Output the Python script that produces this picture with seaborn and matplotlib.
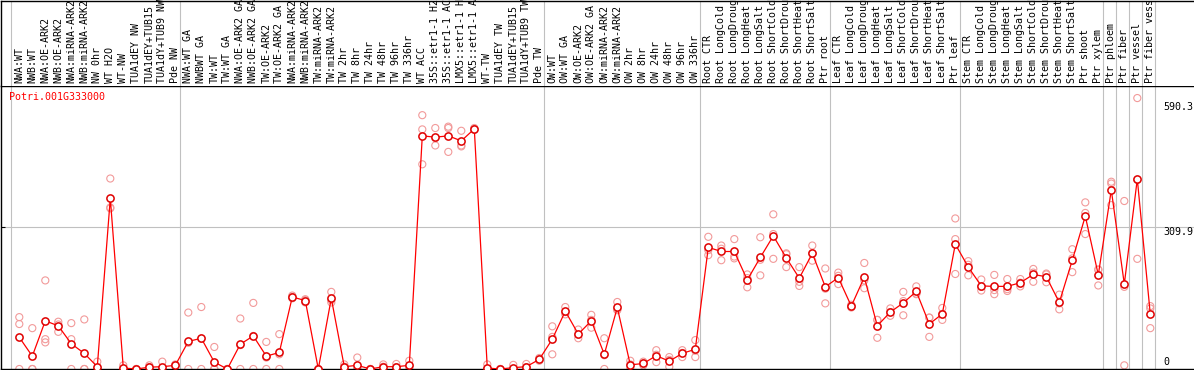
import numpy as np
import pandas as pd
import matplotlib
matplotlib.use('Agg')
import matplotlib.pyplot as plt
import matplotlib.transforms as mtransforms
import seaborn as sns

plt.rcParams['font.family'] = ['DejaVu Sans Mono']

gene = 'Potri.001G333000'

labels = [
    'NWA:WT', 'NWB:WT', 'NWA:OE-ARK2', 'NWB:OE-ARK2', 'NWA:miRNA-ARK2', 'NWB:miRNA-ARK2',
    'NW 0hr', 'WT H2O', 'WT-NW', 'TUA1dEY NW', 'TUA1dEY+TUB15', 'TUA1dY+TUB9 NW', 'Pde NW',
    'NWA:WT GA', 'NWBWT GA', 'TW:WT', 'TW:WT GA', 'NWA:OE-ARK2 GA', 'NWB:OE-ARK2 GA',
    'TW:OE-ARK2', 'TW:OE-ARK2 GA', 'NWA:miRNA-ARK2', 'NWB:miRNA-ARK2', 'TW:miRNA-ARK2',
    'TW:miRNA-ARK2', 'TW 2hr', 'TW 8hr', 'TW 24hr', 'TW 48hr', 'TW 96hr', 'TW 336hr',
    'WT ACC', '35S::etr1-1 H2', '35S::etr1-1 AC', 'LMX5::etr1-1 H', 'LMX5::etr1-1 A',
    'WT-TW', 'TUA1dEY TW', 'TUA1dEY+TUB15', 'TUA1dY+TUB9 TW', 'Pde TW',
    'OW:WT', 'OW:WT GA', 'OW:OE-ARK2', 'OW:OE-ARK2 GA', 'OW:miRNA-ARK2', 'OW:miRNA-ARK2',
    'OW 2hr', 'OW 8hr', 'OW 24hr', 'OW 48hr', 'OW 96hr', 'OW 336hr',
    'Root CTR', 'Root LongCold', 'Root LongDroug', 'Root LongHeat', 'Root LongSalt',
    'Root ShortCold', 'Root ShortDrou', 'Root ShortHeat', 'Root ShortSalt', 'Ptr root',
    'Leaf CTR', 'Leaf LongCold', 'Leaf LongDroug', 'Leaf LongHeat', 'Leaf LongSalt',
    'Leaf ShortCold', 'Leaf ShortDrou', 'Leaf ShortHeat', 'Leaf ShortSalt', 'Ptr leaf',
    'Stem CTR', 'Stem LongCold', 'Stem LongDroug', 'Stem LongHeat', 'Stem LongSalt',
    'Stem ShortCold', 'Stem ShortDrou', 'Stem ShortHeat', 'Stem ShortSalt', 'Ptr shoot',
    'Ptr xylem', 'Ptr phloem', 'Ptr fiber', 'Ptr vessel', 'Ptr fiber vess',
]

group_sizes = [13, 28, 12, 10, 10, 11, 1, 1, 1, 1]

means = [
    69, 28, 105, 94, 55, 34, 5, 372, 2, 0, 4, 5, 8,
    60, 67, 15, 0, 54, 72, 28, 36, 157, 149, 0, 154, 5, 8, 0, 5, 5, 8,
    508, 505, 508, 497, 523, 2, 0, 3, 5, 21,
    65, 126, 76, 105, 32, 134, 9, 12, 29, 17, 34, 43,
    265, 256, 256, 194, 243, 290, 242, 198, 252, 179,
    199, 137, 200, 94, 124, 144, 169, 98, 120, 272,
    222, 181, 180, 180, 188, 206, 201, 145, 237, 333, 205,
    390, 185, 414, 119,
]

rep_a = [
    113, 89, 193, 103, 100, 108, 16, 415, 8, 0, 8, 16, 10,
    123, 135, 48, 0, 110, 144, 59, 76, 160, 152, 0, 168, 10, 25, 0, 10, 11, 18,
    553, 525, 528, 519, 525, 10, 0, 9, 11, 24,
    93, 135, 86, 118, 67, 146, 18, 16, 41, 26, 41, 63,
    288, 269, 283, 206, 287, 337, 252, 222, 269, 219,
    210, 140, 231, 107, 132, 168, 180, 112, 133, 328,
    235, 195, 205, 196, 196, 218, 208, 162, 261, 363, 216,
    408, 366, 590.3, 137,
]

rep_b = [
    98, 0, 65, 97, 65, 0, 0, 352, 0, 0, 4, 0, 8,
    57, 66, 0, 0, 52, 72, 25, 32, 157, 150, 0, 150, 5, 0, 0, 5, 4, 6,
    522, 503, 525, 487, 523, 0, 0, 0, 4, 21,
    70, 124, 75, 107, 30, 128, 10, 12, 31, 20, 35, 40,
    259, 262, 245, 198, 238, 294, 250, 190, 252, 175,
    203, 137, 193, 107, 124, 148, 164, 112, 120, 283,
    227, 179, 172, 174, 188, 210, 206, 143, 241, 340, 217,
    404, 179, 412, 132,
]

rep_c = [
    0, 0, 58, 81, 0, 0, 0, 350, 0, 0, 0, 0, 6,
    0, 0, 0, 0, 0, 0, 0, 0, 154, 145, 0, 145, 0, 0, 0, 0, 0, 0,
    446, 487, 473, 485, 521, 0, 0, 0, 0, 18,
    32, 119, 67, 90, 0, 130, 0, 8, 15, 5, 26, 26,
    248, 237, 241, 178, 204, 240, 222, 181, 236, 143,
    185, 134, 176, 68, 116, 117, 163, 70, 107, 207,
    204, 171, 163, 170, 180, 190, 189, 130, 211, 294, 182,
    357, 8, 240, 89,
]

scale_labels = ['590.3', '309.9', '0']

x = np.arange(len(labels))
df = pd.DataFrame({'x': x, 'label': labels, 'mean': means})
reps = pd.DataFrame({'x': np.tile(x, 3), 'value': rep_a + rep_b + rep_c})

W, H = 1194, 370
x0, dx = 19.3, 13.0          # pixel of first point, pixels per condition
top_px, bot_px = 86, 369     # plot area (rows from top)
px_per_unit = 0.459

fig = plt.figure(figsize=(W / 100, H / 100), dpi=100)
ax = fig.add_axes([0.5 / W, (H - bot_px) / H, 1 - 0.5 / W, (bot_px - top_px) / H])
lab = fig.add_axes([0.5 / W, (H - top_px) / H, 1 - 0.5 / W, (top_px - 0.6) / H], sharex=ax)

ax.set_xlim((0.5 - x0) / dx, (W - x0) / dx)
ax.set_ylim(0, (bot_px - top_px) / px_per_unit)
lab.set_ylim(0, 1)

# group separators
starts = np.cumsum([0] + group_sizes[:-1])
seps = list(starts - 0.64) + [len(labels) - 1 + 0.37]
for a in (ax, lab):
    for s in seps:
        a.axvline(s, color='#c0c0c0', lw=0.8, zorder=0)
ax.axhline(float(scale_labels[1]), color='#c0c0c0', lw=0.8, zorder=0)

sns.scatterplot(data=reps, x='x', y='value', ax=ax, marker='o', s=26,
                facecolors='none', edgecolor='#f29a9a', linewidth=0.8, zorder=2,
                legend=False)
sns.lineplot(data=df, x='x', y='mean', ax=ax, color='#ff0000', linewidth=0.9,
             marker='o', markersize=5.2, markerfacecolor='white',
             markeredgecolor='#e00000', markeredgewidth=1.1, sort=False, zorder=3)

for i, t in enumerate(labels):
    lab.text(i, 0.035, t, rotation=90, ha='center', va='bottom', fontsize=7.2,
             color='black', transform=lab.get_xaxis_transform())

ax.text(8.8 / W, 1 - 6 / (bot_px - top_px), gene, color='#ff0000', fontsize=7.2,
        ha='left', va='top', transform=ax.transAxes)

xr = (1163 - x0) / dx
ax.text(xr, float(scale_labels[0]), scale_labels[0], fontsize=7.2, ha='left', va='top',
        transform=mtransforms.offset_copy(ax.transData, fig=fig, y=-4, units='dots'))
ax.text(xr, float(scale_labels[1]), scale_labels[1], fontsize=7.2, ha='left', va='top')
ax.text(xr, float(scale_labels[2]), scale_labels[2], fontsize=7.2, ha='left', va='bottom',
        transform=mtransforms.offset_copy(ax.transData, fig=fig, y=2, units='dots'))

for a in (ax, lab):
    a.set_xlabel('')
    a.set_ylabel('')
    a.set_facecolor('white')
    a.spines['right'].set_visible(False)
    for s in ('left', 'top', 'bottom'):
        a.spines[s].set_color('black')
        a.spines[s].set_linewidth(1.0)
lab.spines['bottom'].set_visible(False)
lab.tick_params(left=False, bottom=False, labelleft=False, labelbottom=False)
ax.set_yticks([float(scale_labels[1])])
ax.tick_params(axis='y', direction='in', length=3, width=0.8, labelleft=False)
ax.tick_params(axis='x', bottom=False, labelbottom=False)

fig.savefig('out.png', dpi=100, facecolor='white')
